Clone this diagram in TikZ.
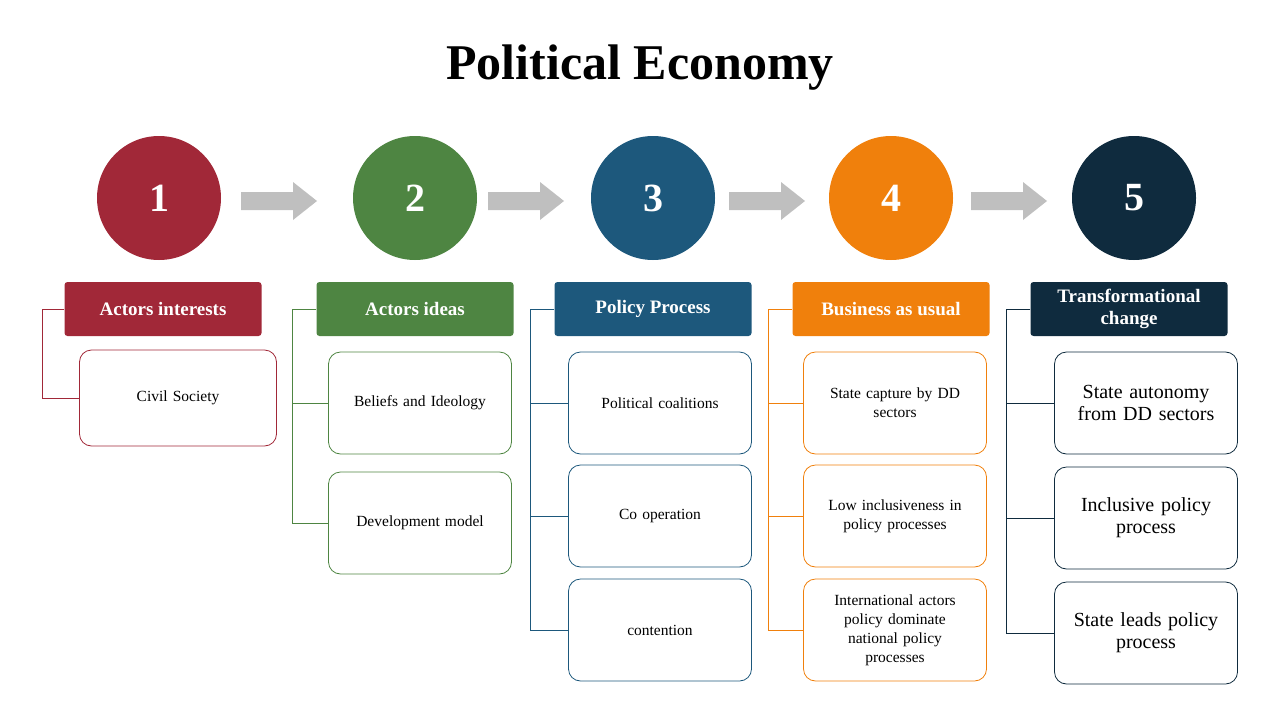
\documentclass[tikz,border=0pt]{standalone}
\usepackage{fontspec}
\setmainfont{Liberation Serif}
\usetikzlibrary{positioning,calc}
\definecolor{cred}{HTML}{A12838}
\definecolor{cgreen}{HTML}{4E8542}
\definecolor{cblue}{HTML}{1D587C}
\definecolor{corange}{HTML}{F0800C}
\definecolor{cnavy}{HTML}{0F2B3E}
\definecolor{carrow}{HTML}{BFBFBF}
\begin{document}
\begin{tikzpicture}[x=1pt,y=-1pt,
                    num/.style={circle,minimum size=124pt,inner sep=0pt,
                                text=white,font=\fontsize{40}{40}\selectfont\bfseries},
                    head/.style={rounded corners=3pt,minimum width=197pt,minimum height=54pt,
                                 text=white,align=center,font=\fontsize{19}{22}\selectfont\bfseries},
                    item/.style={draw,rounded corners=12pt,line width=0.8pt,minimum width=183pt,
                                 minimum height=102pt,text width=165pt,align=center,text=black,
                                 font=\fontsize{15.5}{19}\selectfont},
                    bigitem/.style={item,font=\fontsize{20}{22}\selectfont},
                    link/.style={line width=0.8pt},
                    step arrow/.style={fill=carrow}]
 \useasboundingbox (0,0) rectangle (1280,720);
 \node (title) at (640,68) {\fontsize{50}{50}\selectfont\bfseries Political Economy};
 % numbers
 \node[num,fill=cred]    (n1) at (159,198)  {1};
 \node[num,fill=cgreen]  (n2) at (415,198)  {2};
 \node[num,fill=cblue]   (n3) at (653,198)  {3};
 \node[num,fill=corange] (n4) at (891,198)  {4};
 \node[num,fill=cnavy]   (n5) at (1134,198) {5};
 \foreach \a in {241,488,729,971}
   \fill[step arrow] (\a,192) -- ++(52,0) -- ++(0,-10) -- ++(24,19) -- ++(-24,19)
        -- ++(0,-10) -- ++(-52,0) -- cycle;
 % headers
 \node[head,fill=cred]    (h1) at (163,309)  {Actors interests};
 \node[head,fill=cgreen]  (h2) at (415,309)  {Actors ideas};
 \node[head,fill=cblue]   (h3) at (653,309)  {Policy Process};
 \node[head,fill=corange] (h4) at (891,309)  {Business as usual};
 \node[head,fill=cnavy]   (h5) at (1129,309) {Transformational\\change};
 % items
 \node[item,draw=cred,minimum width=197pt,minimum height=96pt] (c11) at (178,398) {Civil Society};
 \node[item,draw=cgreen] (c21) at (420,403) {Beliefs and Ideology};
 \node[item,draw=cgreen] (c22) at (420,523) {Development model};
 \node[item,draw=cblue] (c31) at (660,403) {Political coalitions};
 \node[item,draw=cblue] (c32) at (660,516) {Co operation};
 \node[item,draw=cblue] (c33) at (660,630) {contention};
 \node[item,draw=corange] (c41) at (895,403) {State capture by DD\\sectors};
 \node[item,draw=corange] (c42) at (895,516) {Low inclusiveness in\\policy processes};
 \node[item,draw=corange] (c43) at (895,630) {International actors\\policy dominate\\national policy\\processes};
 \node[bigitem,draw=cnavy] (c51) at (1146,403) {State autonomy\\from DD sectors};
 \node[bigitem,draw=cnavy] (c52) at (1146,518) {Inclusive policy\\process};
 \node[bigitem,draw=cnavy] (c53) at (1146,633) {State leads policy\\process};
 % brackets
 \draw[link,cred] (h1.west) -- ++(-22,0) |- (c11.west);
 \draw[link,cgreen] (h2.west) -- ++(-24,0) coordinate (b2) |- (c22.west);
 \draw[link,cgreen] (b2) |- (c21.west);
 \draw[link,cblue] (h3.west) -- ++(-24,0) coordinate (b3) |- (c33.west);
 \draw[link,cblue] (b3) |- (c31.west);
 \draw[link,cblue] (b3) |- (c32.west);
 \draw[link,corange] (h4.west) -- ++(-24,0) coordinate (b4) |- (c43.west);
 \draw[link,corange] (b4) |- (c41.west);
 \draw[link,corange] (b4) |- (c42.west);
 \draw[link,cnavy] (h5.west) -- ++(-24,0) coordinate (b5) |- (c53.west);
 \draw[link,cnavy] (b5) |- (c51.west);
 \draw[link,cnavy] (b5) |- (c52.west);
\end{tikzpicture}
\end{document}
